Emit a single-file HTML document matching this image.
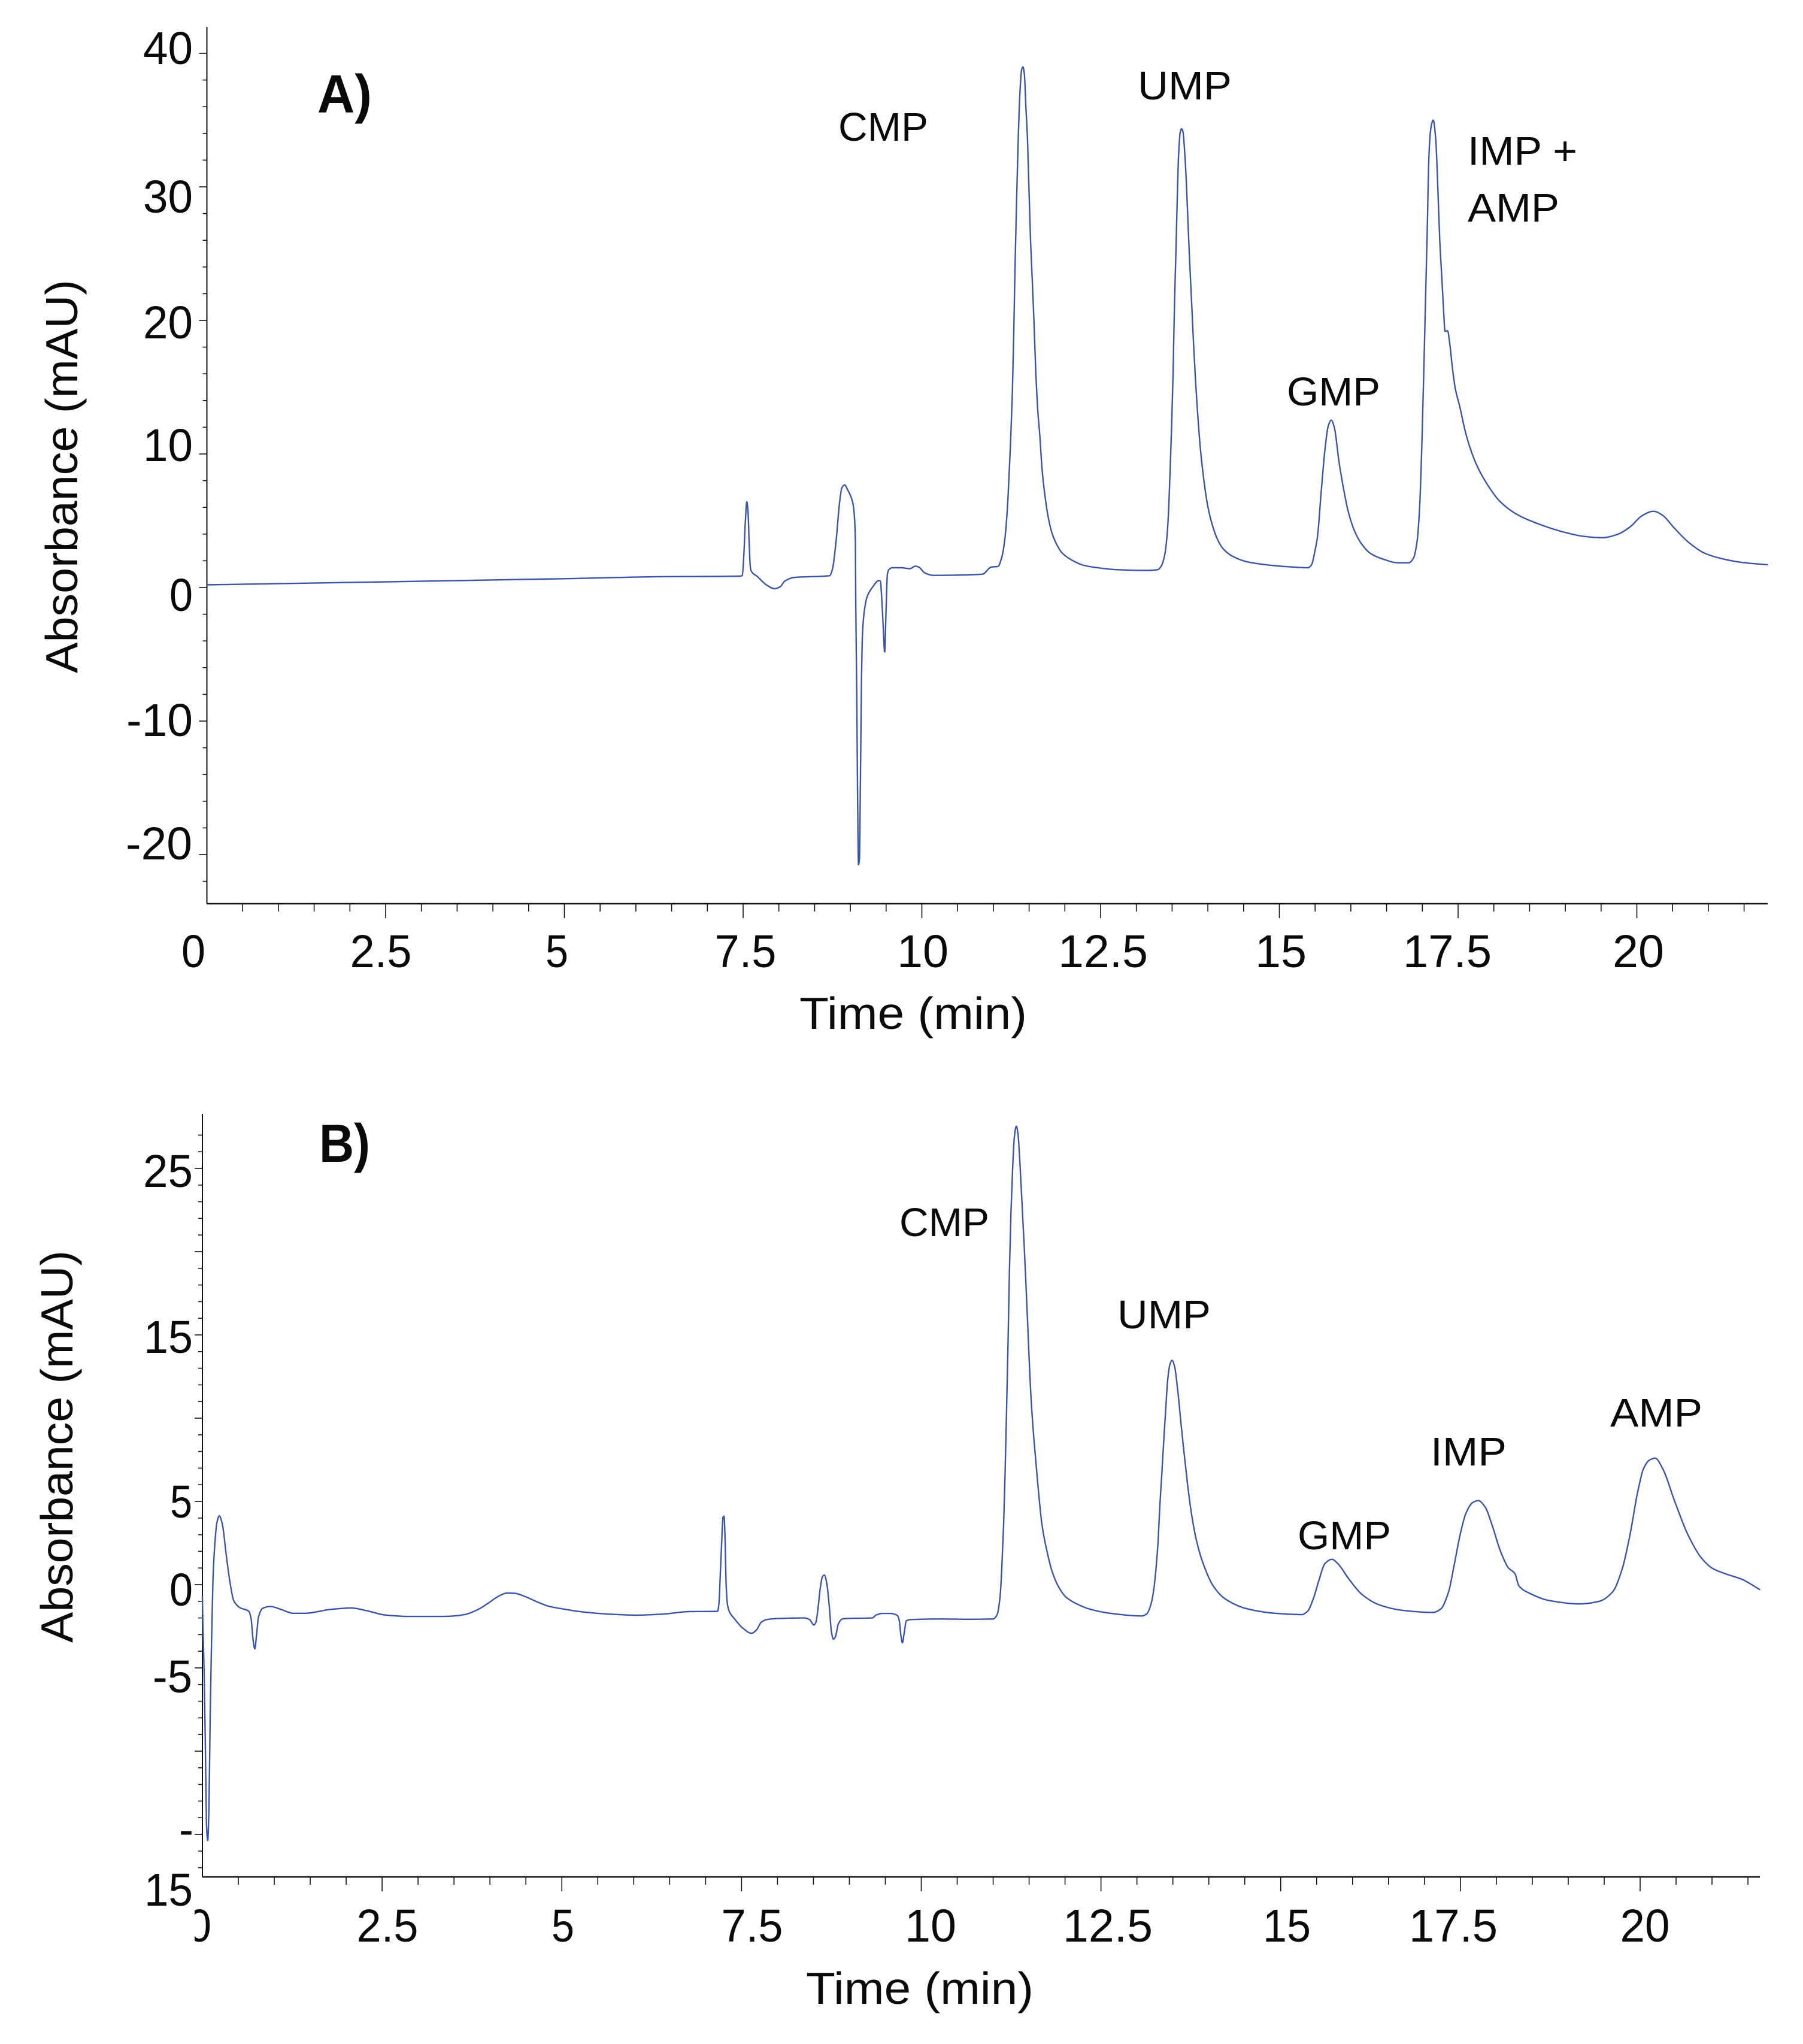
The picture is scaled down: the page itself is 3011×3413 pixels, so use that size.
<!DOCTYPE html>
<html lang="en">
<head>
<meta charset="utf-8">
<title>Chromatograms A and B</title>
<style>
html,body{margin:0;padding:0;background:#fff;}
svg{display:block;}
text{font-family:"Liberation Sans",sans-serif;fill:#0a0a0a;}
.tick{font-size:77px;}
.axis-title{font-size:75px;}
.peak{font-size:67px;}
.panel{font-size:90px;font-weight:bold;}
</style>
</head>
<body>
<svg id="chart" xmlns="http://www.w3.org/2000/svg" width="3011" height="3413" viewBox="0 0 3011 3413">
<defs>
<clipPath id="clip-b-zero"><rect x="325" y="3150" width="60" height="120"/></clipPath>
</defs>
<rect x="0" y="0" width="3011" height="3413" fill="#ffffff"/>
<g id="panel-a"></g>
<g id="panel-b"></g>

<!-- Panel A text -->
<text class="panel" x="530" y="188" textLength="91" lengthAdjust="spacingAndGlyphs">A)</text>
<text class="tick" x="239" y="107" textLength="83" lengthAdjust="spacingAndGlyphs">40</text>
<text class="tick" x="239" y="355" textLength="83" lengthAdjust="spacingAndGlyphs">30</text>
<text class="tick" x="239" y="565" textLength="83" lengthAdjust="spacingAndGlyphs">20</text>
<text class="tick" x="239" y="770" textLength="83" lengthAdjust="spacingAndGlyphs">10</text>
<text class="tick" x="283" y="1020" textLength="39" lengthAdjust="spacingAndGlyphs">0</text>
<text class="tick" x="211" y="1229" textLength="111" lengthAdjust="spacingAndGlyphs">-10</text>
<text class="tick" x="210" y="1435" textLength="111" lengthAdjust="spacingAndGlyphs">-20</text>

<text class="tick" x="323" y="1615" text-anchor="middle" textLength="40" lengthAdjust="spacingAndGlyphs">0</text>
<text class="tick" x="636" y="1615" text-anchor="middle" textLength="103" lengthAdjust="spacingAndGlyphs">2.5</text>
<text class="tick" x="930" y="1615" text-anchor="middle" textLength="38" lengthAdjust="spacingAndGlyphs">5</text>
<text class="tick" x="1245" y="1615" text-anchor="middle" textLength="103" lengthAdjust="spacingAndGlyphs">7.5</text>
<text class="tick" x="1541" y="1615" text-anchor="middle" textLength="86" lengthAdjust="spacingAndGlyphs">10</text>
<text class="tick" x="1842" y="1615" text-anchor="middle" textLength="150" lengthAdjust="spacingAndGlyphs">12.5</text>
<text class="tick" x="2139" y="1615" text-anchor="middle" textLength="86" lengthAdjust="spacingAndGlyphs">15</text>
<text class="tick" x="2417" y="1615" text-anchor="middle" textLength="148" lengthAdjust="spacingAndGlyphs">17.5</text>
<text class="tick" x="2736" y="1615" text-anchor="middle" textLength="86" lengthAdjust="spacingAndGlyphs">20</text>

<text class="axis-title" x="1335" y="1718" textLength="380" lengthAdjust="spacingAndGlyphs">Time (min)</text>
<text class="axis-title" transform="translate(129 1124) rotate(-90)" x="0" y="0" textLength="657" lengthAdjust="spacingAndGlyphs">Absorbance (mAU)</text>

<text class="peak" x="1400" y="235" textLength="150" lengthAdjust="spacingAndGlyphs">CMP</text>
<text class="peak" x="1900" y="166" textLength="157" lengthAdjust="spacingAndGlyphs">UMP</text>
<text class="peak" x="2149" y="677" textLength="156" lengthAdjust="spacingAndGlyphs">GMP</text>
<text class="peak" x="2451" y="275" textLength="183" lengthAdjust="spacingAndGlyphs">IMP +</text>
<text class="peak" x="2451" y="370" textLength="153" lengthAdjust="spacingAndGlyphs">AMP</text>

<!-- Panel B text -->
<text class="panel" x="533" y="1940" textLength="85" lengthAdjust="spacingAndGlyphs">B)</text>
<text class="tick" x="239" y="1982" textLength="83" lengthAdjust="spacingAndGlyphs">25</text>
<text class="tick" x="240" y="2259" textLength="82" lengthAdjust="spacingAndGlyphs">15</text>
<text class="tick" x="284" y="2534" textLength="37" lengthAdjust="spacingAndGlyphs">5</text>
<text class="tick" x="283" y="2681" textLength="39" lengthAdjust="spacingAndGlyphs">0</text>
<text class="tick" x="255" y="2826" textLength="66" lengthAdjust="spacingAndGlyphs">-5</text>
<text class="tick" x="299" y="3081" textLength="24" lengthAdjust="spacingAndGlyphs">-</text>
<text class="tick" x="241" y="3182" textLength="81" lengthAdjust="spacingAndGlyphs">15</text>

<text class="tick" x="333" y="3242" text-anchor="middle" textLength="40" lengthAdjust="spacingAndGlyphs" clip-path="url(#clip-b-zero)">0</text>
<text class="tick" x="647" y="3242" text-anchor="middle" textLength="103" lengthAdjust="spacingAndGlyphs">2.5</text>
<text class="tick" x="940" y="3242" text-anchor="middle" textLength="38" lengthAdjust="spacingAndGlyphs">5</text>
<text class="tick" x="1256" y="3242" text-anchor="middle" textLength="103" lengthAdjust="spacingAndGlyphs">7.5</text>
<text class="tick" x="1554" y="3242" text-anchor="middle" textLength="86" lengthAdjust="spacingAndGlyphs">10</text>
<text class="tick" x="1850" y="3242" text-anchor="middle" textLength="150" lengthAdjust="spacingAndGlyphs">12.5</text>
<text class="tick" x="2149" y="3242" text-anchor="middle" textLength="80" lengthAdjust="spacingAndGlyphs">15</text>
<text class="tick" x="2427" y="3242" text-anchor="middle" textLength="148" lengthAdjust="spacingAndGlyphs">17.5</text>
<text class="tick" x="2747" y="3242" text-anchor="middle" textLength="83" lengthAdjust="spacingAndGlyphs">20</text>

<text class="axis-title" x="1346" y="3346" textLength="380" lengthAdjust="spacingAndGlyphs">Time (min)</text>
<text class="axis-title" transform="translate(121 2743) rotate(-90)" x="0" y="0" textLength="655" lengthAdjust="spacingAndGlyphs">Absorbance (mAU)</text>

<text class="peak" x="1502" y="2064" textLength="150" lengthAdjust="spacingAndGlyphs">CMP</text>
<text class="peak" x="1866" y="2218" textLength="156" lengthAdjust="spacingAndGlyphs">UMP</text>
<text class="peak" x="2167" y="2587" textLength="156" lengthAdjust="spacingAndGlyphs">GMP</text>
<text class="peak" x="2389" y="2447" textLength="127" lengthAdjust="spacingAndGlyphs">IMP</text>
<text class="peak" x="2689" y="2382" textLength="154" lengthAdjust="spacingAndGlyphs">AMP</text>
</svg>

<script>
var panelATime = [0,2.5,5,6.32,7.47,7.489,7.511,7.53,7.552,7.568,7.584,7.6,7.61,7.7,7.83,7.94,8.02,8.08,8.21,8.71,8.75,8.8,8.85,8.88,8.92,8.96,9.03,9.05,9.07,9.075,9.09,9.1,9.114,9.127,9.14,9.156,9.17,9.2,9.236,9.315,9.396,9.42,9.44,9.46,9.48,9.5,9.517,9.54,9.59,9.72,9.83,9.91,9.96,10.04,10.16,10.49,10.85,10.97,11.065,11.12,11.16,11.196,11.218,11.24,11.266,11.288,11.307,11.327,11.35,11.372,11.394,11.414,11.433,11.455,11.478,11.497,11.52,11.545,11.567,11.595,11.623,11.651,11.679,11.72,11.763,11.818,11.888,11.958,12.098,12.265,12.488,12.74,13.158,13.298,13.354,13.396,13.429,13.452,13.474,13.493,13.513,13.535,13.555,13.572,13.591,13.614,13.633,13.653,13.675,13.697,13.717,13.745,13.773,13.8,13.828,13.856,13.898,13.94,13.996,14.066,14.136,14.219,14.359,14.554,14.833,15.113,15.4,15.45,15.5,15.532,15.584,15.64,15.684,15.727,15.77,15.835,15.9,15.965,16.05,16.139,16.27,16.442,16.66,16.81,16.875,16.927,16.962,16.996,17.027,17.05,17.07,17.092,17.118,17.152,17.187,17.213,17.243,17.274,17.3,17.317,17.352,17.386,17.417,17.46,17.525,17.612,17.742,17.893,18.088,18.348,18.651,18.998,19.258,19.518,19.735,19.908,20.08,20.233,20.363,20.515,20.731,20.948,21.165,21.468,21.836];
var panelAAbsorbance = [0.2,0.42,0.66,0.81,0.85,0.93,2.53,4.82,6.42,5.73,3.45,1.61,1.28,0.82,0.18,-0.09,0.06,0.47,0.75,0.89,1.39,3.45,6.42,7.45,7.68,7.34,6.42,5.74,3.45,-1.12,-7.98,-14.84,-20.76,-20.3,-14.84,-6.85,-3.41,-1.57,-0.67,0.06,0.52,0.48,-0.9,-2.96,-4.83,-1.57,0.94,1.35,1.48,1.48,1.41,1.6,1.52,1.09,0.91,0.93,1.0,1.53,1.58,2.3,3.59,5.91,8.22,10.8,14.66,19.81,24.96,29.33,33.97,37.05,38.73,38.98,38.47,36.02,33.45,30.1,25.99,22.9,20.07,15.95,13.12,11.31,9.0,6.94,5.39,4.11,3.2,2.61,2.05,1.66,1.46,1.33,1.28,1.33,1.66,2.43,3.85,5.91,9.0,12.09,15.95,21.61,25.47,29.07,32.42,34.09,34.35,34.09,32.68,30.62,28.04,24.44,21.35,18.26,15.43,13.12,10.28,8.22,6.17,4.62,3.59,2.87,2.3,1.92,1.69,1.56,1.48,1.7,2.8,3.73,7.08,10.42,12.1,12.53,11.97,9.39,7.33,5.66,4.25,3.35,2.57,2.14,1.85,1.85,2.19,3.47,6.05,11.2,17.63,22.78,27.15,32.3,34.36,35.0,33.59,30.5,26.1,23.04,20.46,19.18,19.23,18.15,16.6,14.93,13.51,11.45,9.39,7.85,6.43,5.4,4.71,4.12,3.83,3.73,3.99,4.55,5.4,5.71,5.4,4.5,3.35,2.57,2.19,1.88,1.7];

var panelBTime = [0,0.006,0.023,0.04,0.057,0.074,0.091,0.108,0.125,0.147,0.172,0.202,0.236,0.278,0.329,0.38,0.436,0.521,0.648,0.678,0.703,0.729,0.754,0.78,0.839,0.946,1.094,1.264,1.434,1.774,2.072,2.284,2.539,2.879,3.219,3.432,3.654,3.848,3.987,4.126,4.237,4.348,4.487,4.654,4.82,5.015,5.293,5.654,6.043,6.432,6.765,7.167,7.186,7.203,7.222,7.242,7.255,7.27,7.286,7.305,7.333,7.403,7.514,7.639,7.708,7.778,7.861,7.986,8.374,8.444,8.508,8.536,8.563,8.597,8.624,8.652,8.685,8.721,8.749,8.777,8.805,8.847,8.902,8.985,9.318,9.374,9.457,9.568,9.666,9.693,9.716,9.738,9.763,9.791,9.846,10.29,10.679,11.0,11.054,11.096,11.123,11.145,11.165,11.184,11.207,11.226,11.248,11.27,11.295,11.323,11.345,11.373,11.401,11.429,11.457,11.484,11.526,11.567,11.623,11.679,11.748,11.817,11.9,12.012,12.151,12.345,12.623,13.067,13.136,13.192,13.233,13.267,13.295,13.317,13.345,13.372,13.4,13.428,13.456,13.489,13.525,13.567,13.608,13.65,13.706,13.761,13.83,13.925,14.059,14.22,14.542,14.918,15.294,15.375,15.455,15.536,15.616,15.713,15.804,15.938,16.126,16.368,16.69,17.12,17.227,17.335,17.415,17.496,17.576,17.668,17.748,17.845,17.936,18.06,18.167,18.259,18.312,18.463,18.731,19.161,19.43,19.617,19.752,19.859,19.966,20.047,20.127,20.208,20.315,20.477,20.665,20.853,21.014,21.202,21.417,21.669];
var panelBAbsorbance = [-0.68,-2.3,-5.1,-9.28,-14.39,-15.37,-13.46,-7.88,-3.93,0.25,2.34,3.74,4.13,3.62,1.88,0.25,-0.96,-1.38,-1.61,-2.07,-3.23,-3.86,-3.0,-1.96,-1.42,-1.31,-1.49,-1.72,-1.72,-1.49,-1.4,-1.56,-1.82,-1.91,-1.91,-1.9,-1.79,-1.46,-1.08,-0.68,-0.5,-0.52,-0.71,-1.03,-1.3,-1.46,-1.64,-1.77,-1.83,-1.76,-1.62,-1.6,-1.1,0.46,2.37,4.05,4.11,2.85,-0.02,-1.22,-1.64,-2.06,-2.6,-2.92,-2.72,-2.24,-2.09,-2.04,-2.0,-2.09,-2.42,-2.24,-1.46,-0.14,0.46,0.58,0.1,-1.34,-2.78,-3.28,-3.14,-2.36,-2.06,-2.03,-2.0,-1.82,-1.73,-1.73,-1.85,-2.12,-3.02,-3.5,-2.9,-2.18,-2.1,-2.06,-2.08,-2.06,-1.82,-0.74,1.24,3.6,6.56,9.92,14.46,18.8,22.35,24.92,26.89,27.54,27.09,25.31,22.94,20.57,18.0,15.25,11.3,8.74,5.97,3.6,2.03,0.84,-0.05,-0.74,-1.13,-1.47,-1.72,-1.88,-1.76,-1.23,-0.34,1.04,2.62,4.59,6.56,8.54,10.51,12.29,13.18,13.47,13.08,11.7,9.92,8.14,5.97,4.2,2.62,1.22,-0.06,-0.83,-1.46,-1.72,-1.8,-1.59,-0.83,0.32,1.27,1.52,1.22,0.4,-0.57,-1.21,-1.54,-1.67,-1.46,-0.44,1.22,3.0,4.28,4.92,5.05,4.66,3.64,1.98,1.01,0.66,-0.06,-0.52,-0.95,-1.16,-1.0,-0.44,0.96,3.0,5.56,6.96,7.47,7.6,6.96,5.05,3.0,1.6,0.96,0.63,0.32,-0.31];

var panelAYTicks = [40,38,36,34,32,30,28,26,24,22,20,18,16,14,12,10,8,6,4,2,0,-2,-4,-6,-8,-10,-12,-14,-16,-18,-20,-22];
var panelAYMajor = [40,30,20,10,0,-10,-20];
var panelBYTicks = [27,26,25,24,23,22,21,20,19,18,17,16,15,14,13,12,11,10,9,8,7,6,5,4,3,2,1,0,-1,-2,-3,-4,-5,-6,-7,-8,-9,-10,-11,-12,-13,-14,-15,-16,-17];
var panelBYMajor = [25,20,15,10,5,0,-5,-10,-15];
var xTicks = [0.5,1,1.5,2,2.5,3,3.5,4,4.5,5,5.5,6,6.5,7,7.5,8,8.5,9,9.5,10,10.5,11,11.5,12,12.5,13,13.5,14,14.5,15,15.5,16,16.5,17,17.5,18,18.5,19,19.5,20,20.5,21,21.5];
var xMajor = [2.5,5,7.5,10,12.5,15,17.5,20];

var SVG_NS = 'http://www.w3.org/2000/svg';

function drawLine(parent, x1, y1, x2, y2, width, name) {
  var el = document.createElementNS(SVG_NS, 'line');
  el.setAttribute('x1', x1);
  el.setAttribute('y1', y1);
  el.setAttribute('x2', x2);
  el.setAttribute('y2', y2);
  el.setAttribute('stroke', '#111111');
  el.setAttribute('stroke-width', width);
  
  
  parent.appendChild(el);
}

// Monotone cubic path through the mapped data points (no overshoot at sharp peaks).
function monotonePath(xs, ys) {
  var n = xs.length, slopes = [], m = [], i;
  for (i = 0; i < n - 1; i++) {
    slopes.push((ys[i + 1] - ys[i]) / (xs[i + 1] - xs[i]));
  }
  m.push(slopes[0]);
  for (i = 1; i < n - 1; i++) {
    if (slopes[i - 1] * slopes[i] <= 0) {
      m.push(0);
    } else {
      var h0 = xs[i] - xs[i - 1], h1 = xs[i + 1] - xs[i];
      m.push(3 * (h0 + h1) / ((2 * h1 + h0) / slopes[i - 1] + (h1 + 2 * h0) / slopes[i]));
    }
  }
  m.push(slopes[n - 2]);
  var d = 'M' + xs[0].toFixed(1) + ' ' + ys[0].toFixed(1);
  for (i = 0; i < n - 1; i++) {
    var h = (xs[i + 1] - xs[i]) / 3;
    d += 'C' + (xs[i] + h).toFixed(1) + ' ' + (ys[i] + m[i] * h).toFixed(1) + ' ' +
         (xs[i + 1] - h).toFixed(1) + ' ' + (ys[i + 1] - m[i + 1] * h).toFixed(1) + ' ' +
         xs[i + 1].toFixed(1) + ' ' + ys[i + 1].toFixed(1);
  }
  return d;
}

function drawPanel(parent, prefix, xScale, yScale, left, right, top, bottom, times, values, yTicks, yMajor) {
  drawLine(parent, left, top, left, bottom, 2, prefix + '-y-axis');
  drawLine(parent, left, bottom, right, bottom, 2.5, prefix + '-x-axis');
  yTicks.forEach(function (v) {
    var major = yMajor.indexOf(v) >= 0;
    drawLine(parent, left - (major ? 13 : 7), yScale(v), left, yScale(v), 1.6, prefix + '-y-tick');
  });
  xTicks.forEach(function (t) {
    var major = xMajor.indexOf(t) >= 0;
    drawLine(parent, xScale(t), bottom, xScale(t), bottom + (major ? 24 : 13), 1.6, prefix + '-x-tick');
  });
  var trace = document.createElementNS(SVG_NS, 'path');
  trace.setAttribute('d', monotonePath(times.map(xScale), values.map(yScale)));
  trace.setAttribute('fill', 'none');
  trace.setAttribute('stroke', '#3a55a8');
  trace.setAttribute('stroke-width', '2.4');
  trace.setAttribute('stroke-linejoin', 'round');
  
  
  parent.appendChild(trace);
}

function xA(t) { return 345.5 + t * 119.4; }
function yA(v) { return 981 - v * 22.3; }
function xB(t) { return 338 + t * 120.05; }
function yB(v) { return 2646 - v * 27.8; }

drawPanel(document.getElementById('panel-a'), 'panel-a', xA, yA, 345.5, 2952, 45, 1509, panelATime, panelAAbsorbance, panelAYTicks, panelAYMajor);
drawPanel(document.getElementById('panel-b'), 'panel-b', xB, yB, 338, 2939, 1860, 3134, panelBTime, panelBAbsorbance, panelBYTicks, panelBYMajor);
</script>
</body>
</html>
